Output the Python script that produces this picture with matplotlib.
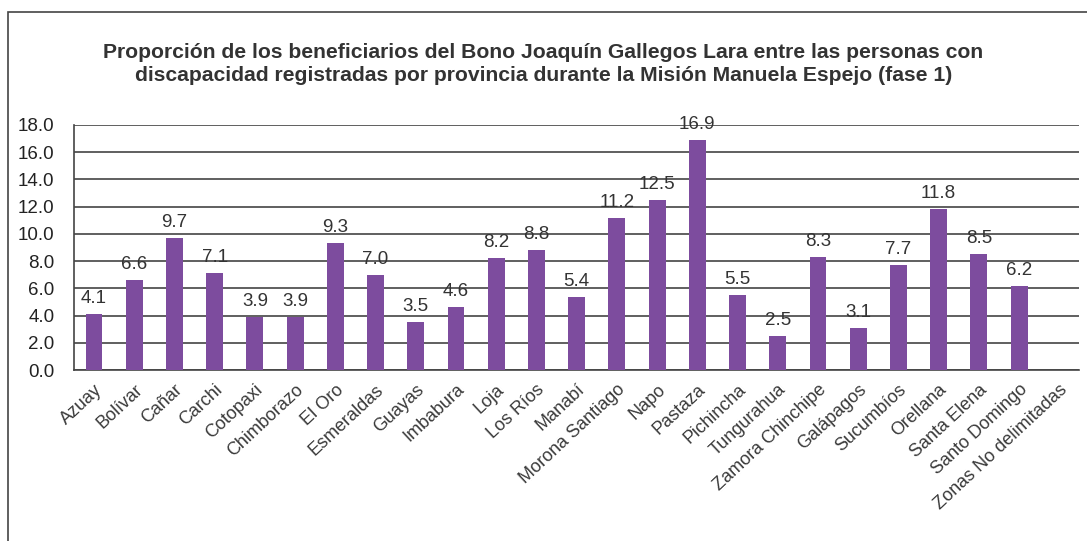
import matplotlib
matplotlib.use('Agg')
import matplotlib.pyplot as plt
from matplotlib.patches import Rectangle
import numpy as np

provincias = ['Azuay', 'Bolívar', 'Cañar', 'Carchi', 'Cotopaxi', 'Chimborazo', 'El Oro',
              'Esmeraldas', 'Guayas', 'Imbabura', 'Loja', 'Los Ríos', 'Manabí',
              'Morona Santiago', 'Napo', 'Pastaza', 'Pichincha', 'Tungurahua',
              'Zamora Chinchipe', 'Galápagos', 'Sucumbíos', 'Orellana', 'Santa Elena',
              'Santo Domingo', 'Zonas No delimitadas']
proporcion = [4.1, 6.6, 9.7, 7.1, 3.9, 3.9, 9.3, 7.0, 3.5, 4.6, 8.2, 8.8, 5.4,
              11.2, 12.5, 16.9, 5.5, 2.5, 8.3, 3.1, 7.7, 11.8, 8.5, 6.2, np.nan]
yticks = [0, 2, 4, 6, 8, 10, 12, 14, 16, 18]

plt.rcParams['font.family'] = ['Liberation Sans', 'DejaVu Sans']

fig = plt.figure(figsize=(10.87, 5.41), dpi=100)
ax = fig.add_axes([0.068, 0.316, 0.925, 0.453])

x = np.arange(len(provincias))
ax.bar(x, proporcion, width=0.42, color='#7d4c9e', zorder=3)
for xi, v in zip(x, proporcion):
    if not np.isnan(v):
        ax.annotate(f'{v:.1f}', (xi, v), xytext=(0, 5), textcoords='offset points',
                    ha='center', va='bottom', fontsize=13.5, color='#333333', zorder=4)

ax.set_xlim(-0.5, len(provincias) - 0.5)
ax.set_ylim(0, 18)
ax.set_yticks(yticks)
ax.set_yticklabels([f'{t:.1f}' for t in yticks], fontsize=13.5, color='#222222')
ax.yaxis.grid(True, color='#444444', linewidth=1.2, zorder=0)
ax.set_xticks(x)
ax.set_xticklabels(provincias, rotation=43, ha='right', rotation_mode='anchor',
                   fontsize=13, color='#3a3a3a')
ax.tick_params(axis='y', length=0, pad=14)
ax.tick_params(axis='x', length=0, pad=8)
for s in ['top', 'right']:
    ax.spines[s].set_visible(False)
ax.spines['left'].set_color('#444444')
ax.spines['bottom'].set_color('#444444')
ax.spines['left'].set_linewidth(1.2)
ax.spines['bottom'].set_linewidth(1.2)

fig.text(0.5, 0.882, 'Proporción de los beneficiarios del Bono Joaquín Gallegos Lara entre las personas con\n'
         'discapacidad registradas por provincia durante la Misión Manuela Espejo (fase 1)',
         ha='center', va='center', fontsize=15.2, fontweight='bold', color='#333333',
         linespacing=1.3)

fig.add_artist(Rectangle((0.0074, -0.05), 1.2, 1.028, transform=fig.transFigure,
                         fill=False, edgecolor='#444444', linewidth=1.2))

fig.savefig('out.png', dpi=100)
